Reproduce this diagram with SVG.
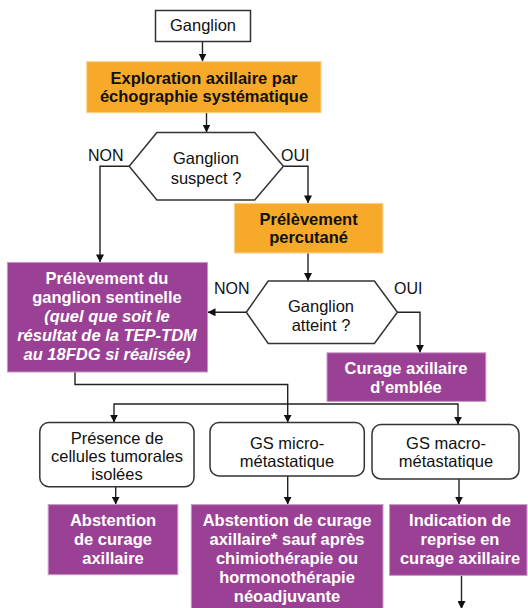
<svg xmlns="http://www.w3.org/2000/svg" width="528" height="608" viewBox="0 0 528 608">
  <defs>
    <marker id="arrow" markerUnits="userSpaceOnUse" markerWidth="8" markerHeight="8" refX="8" refY="4" orient="auto">
      <path d="M0,0 L8,4 L0,8 z" fill="#111"/>
    </marker>
    <style>
      text { font-family: "Liberation Sans", Arial, sans-serif; font-size: 16.5px; text-anchor: middle; fill: #111; }
      .w { fill: #fff; font-weight: bold; }
      .b { font-weight: bold; }
      .i { font-style: italic; }
      .lbl { text-anchor: start; font-size: 16px; }
      .plain { fill: #fff; stroke: #333; stroke-width: 1.5; }
      .orange { fill: #F7AA2A; stroke: #FAD08A; stroke-width: 1; }
      .purple { fill: #9B4195; stroke: #C79AC4; stroke-width: 1; }
      .conn { fill: none; stroke: #222; stroke-width: 1.4; }
    </style>
  </defs>
  <rect width="528" height="608" fill="#fff"/>

  <!-- connectors -->
  <g id="connectors" class="conn">
    <path d="M202.5,41.5 V61.5" marker-end="url(#arrow)"/>
    <path d="M206.5,112.7 V132.5" marker-end="url(#arrow)"/>
    <path d="M129.2,166.3 H100 V262.4" marker-end="url(#arrow)"/>
    <path d="M283.4,166.3 H308 V203.4" marker-end="url(#arrow)"/>
    <path d="M308,253 V281" marker-end="url(#arrow)"/>
    <path d="M246.3,312.3 H207.5" marker-end="url(#arrow)"/>
    <path d="M397.4,312.3 H420 V352.8" marker-end="url(#arrow)"/>
    <path d="M75,372 V384.5 H287.7 V422.6" marker-end="url(#arrow)"/>
    <path d="M287.7,404 H114 V422.6" marker-end="url(#arrow)"/>
    <path d="M287.7,404 H458 V424.6" marker-end="url(#arrow)"/>
    <path d="M115.7,486.7 V504.6" marker-end="url(#arrow)"/>
    <path d="M287.7,475.9 V504.6" marker-end="url(#arrow)"/>
    <path d="M459,479 V504.6" marker-end="url(#arrow)"/>
    <path d="M461.5,575.4 V609" marker-end="url(#arrow)"/>
  </g>

  <!-- edge labels -->
  <g id="labels">
    <text class="lbl" x="88" y="161">NON</text>
    <text class="lbl" x="281" y="161">OUI</text>
    <text class="lbl" x="214" y="294">NON</text>
    <text class="lbl" x="394" y="294">OUI</text>
  </g>

  <g id="ganglion">
    <rect class="plain" x="155.5" y="10.5" width="95" height="31"/>
    <text x="203" y="31">Ganglion</text>
  </g>

  <g id="exploration">
    <rect class="orange" x="86.7" y="61.7" width="234.3" height="51"/>
    <text class="b" x="204" y="83.5">Exploration axillaire par</text>
    <text class="b" x="204" y="102">échographie systématique</text>
  </g>

  <g id="suspect">
    <polygon class="plain" points="129.2,166.3 156.9,132.6 254.7,132.6 283.4,166.3 254.7,200 156.9,200"/>
    <text x="206" y="164">Ganglion</text>
    <text x="206" y="184">suspect ?</text>
  </g>

  <g id="percutane">
    <rect class="orange" x="234.4" y="203.4" width="148.5" height="49.6"/>
    <text class="b" x="308.6" y="224.5">Prélèvement</text>
    <text class="b" x="308.6" y="243">percutané</text>
  </g>

  <g id="atteint">
    <polygon class="plain" points="246.3,312.3 268.2,281 374.4,281 397.4,312.3 374.4,343.4 268.2,343.4"/>
    <text x="321" y="311.5">Ganglion</text>
    <text x="321" y="330.5">atteint ?</text>
  </g>

  <g id="sentinelle">
    <rect class="purple" x="7.4" y="262.4" width="200.1" height="109.6"/>
    <text class="w" x="107" y="283.5">Prélèvement du</text>
    <text class="w" x="107" y="302.5">ganglion sentinelle</text>
    <text class="w i" x="107" y="321.5">(quel que soit le</text>
    <text class="w i" x="107" y="340.5">résultat de la TEP-TDM</text>
    <text class="w i" x="107" y="359.5">au 18FDG si réalisée)</text>
  </g>

  <g id="curage-emblee">
    <rect class="purple" x="327" y="352.8" width="158.8" height="48.6"/>
    <text class="w" x="406" y="373.5">Curage axillaire</text>
    <text class="w" x="406" y="392.5">d’emblée</text>
  </g>

  <g id="cellules-isolees">
    <rect class="plain" x="39.8" y="422.6" width="154.2" height="64.1" rx="9"/>
    <text x="117" y="443.5">Présence de</text>
    <text x="117" y="461.5">cellules tumorales</text>
    <text x="117" y="480">isolées</text>
  </g>

  <g id="micro">
    <rect class="plain" x="210" y="422.6" width="154.3" height="53.3" rx="9"/>
    <text x="287" y="449">GS micro-</text>
    <text x="287" y="467">métastatique</text>
  </g>

  <g id="macro">
    <rect class="plain" x="372" y="424.6" width="147" height="54.4" rx="9"/>
    <text x="446" y="449">GS macro-</text>
    <text x="446" y="467">métastatique</text>
  </g>

  <g id="abstention">
    <rect class="purple" x="48.2" y="504.6" width="129.6" height="70.1"/>
    <text class="w" x="113" y="525.5">Abstention</text>
    <text class="w" x="113" y="544.5">de curage</text>
    <text class="w" x="113" y="563.5">axillaire</text>
  </g>

  <g id="abstention-sauf">
    <rect class="purple" x="191.3" y="504.6" width="191.7" height="104"/>
    <text class="w" x="287" y="525.5">Abstention de curage</text>
    <text class="w" x="287" y="544.5">axillaire* sauf après</text>
    <text class="w" x="287" y="563.5">chimiothérapie ou</text>
    <text class="w" x="287" y="582.5">hormonothérapie</text>
    <text class="w" x="287" y="601.5">néoadjuvante</text>
  </g>

  <g id="reprise">
    <rect class="purple" x="389.6" y="504.6" width="137.4" height="70.8"/>
    <text class="w" x="460" y="525.5">Indication de</text>
    <text class="w" x="460" y="544.5">reprise en</text>
    <text class="w" x="460" y="563.5">curage axillaire</text>
  </g>
</svg>
